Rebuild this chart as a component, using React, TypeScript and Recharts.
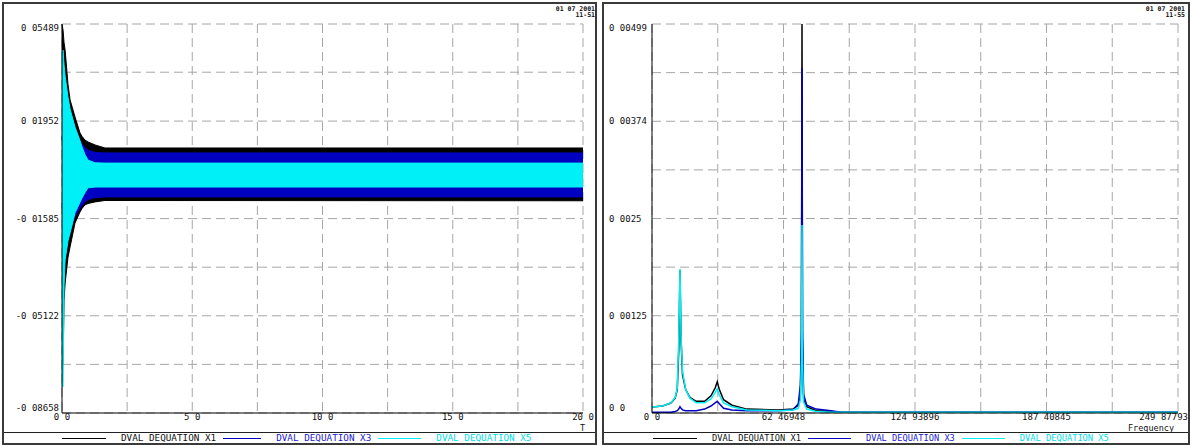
import React from "react";
import { ComposedChart, Area, Line, XAxis, YAxis, CartesianGrid } from "recharts";

// left panel: time response, bands are the oscillation envelopes
const timeT = [0, 0.04, 0.08, 0.12, 0.23, 0.31, 0.5, 0.69, 0.77, 0.88, 1.0, 1.27, 1.65, 20];
const x1Hi = [0.0548, 0.0527, 0.048, 0.0454, 0.033, 0.0273, 0.0211, 0.0153, 0.014, 0.0127, 0.012, 0.0109, 0.0098, 0.0098];
const x1Lo = [-0.0691, -0.0691, -0.0455, -0.0393, -0.03, -0.0262, -0.0175, -0.0135, -0.0122, -0.0109, -0.0104, -0.0098, -0.0093, -0.0094];
const x3Hi = [0.0127, 0.018, 0.022, 0.024, 0.022, 0.02, 0.0155, 0.0125, 0.0112, 0.01, 0.009, 0.0082, 0.008, 0.008];
const x3Lo = [-0.01, -0.016, -0.022, -0.024, -0.022, -0.02, -0.015, -0.012, -0.011, -0.0098, -0.009, -0.0082, -0.008, -0.008];
const x5Hi = [0.04, 0.0454, 0.04, 0.036, 0.0283, 0.024, 0.0174, 0.0125, 0.0102, 0.0075, 0.0054, 0.0044, 0.0043, 0.0043];
const x5Lo = [-0.0771, -0.0771, -0.04, -0.0309, -0.024, -0.0211, -0.0138, -0.01, -0.0084, -0.0065, -0.0047, -0.0044, -0.0044, -0.0044];

const timeTicks = [0, 2.5, 5, 7.5, 10, 12.5, 15, 17.5, 20];
const timeTickLabels = ["0 0", "", "5 0", "", "10 0", "", "15 0", "", "20 0"];
const respTicks = [-0.08658, -0.068896, -0.051223, -0.033549, -0.015875, 0.001809, 0.019583, 0.037356, 0.05489];
const respTickLabels = ["-0 08658", "", "-0 05122", "", "-0 01585", "", "0 01952", "", "0 05489"];

// right panel: spectrum
const freq = [0, 5, 9, 11, 12, 12.7, 13.3, 13.8, 14.5, 16, 18, 21, 25, 28, 30, 31, 32, 34, 38, 45, 60, 67, 69.5, 70.5, 71, 71.26, 71.5, 72, 73.5, 78, 85, 90, 249.88];
const specX1 = [0.000077, 0.00009, 0.000128, 0.00019, 0.0003, 0.0008, 0.00183, 0.00094, 0.00049, 0.0003, 0.0002, 0.00015, 0.00015, 0.00022, 0.00032, 0.0004, 0.0003, 0.00017, 0.0001, 0.00005, 0.00004, 0.00005, 0.0001, 0.00023, 0.00094, 0.00499, 0.00094, 0.00019, 0.00008, 0.00003, 0.00002, 0.00001, 0.00001];
const specX3 = [0.00001, 0.00001, 0.00001, 0.00002, 0.00003, 0.00005, 0.00008, 0.00006, 0.00004, 0.00003, 0.00003, 0.00003, 0.00005, 0.00009, 0.00013, 0.00015, 0.00012, 0.00006, 0.00004, 0.00003, 0.00003, 0.00004, 0.00012, 0.00036, 0.00106, 0.00443, 0.00106, 0.00024, 0.0001, 0.00005, 0.00003, 0.00001, 0.00001];
const specX5 = [0.000077, 0.00009, 0.00013, 0.0002, 0.00032, 0.00094, 0.001847, 0.001, 0.00053, 0.0003, 0.00019, 0.00013, 0.00013, 0.00018, 0.00026, 0.00031, 0.00023, 0.00013, 0.00008, 0.00004, 0.00003, 0.00004, 0.00006, 0.00017, 0.00068, 0.00241, 0.00068, 0.00014, 0.00005, 0.00002, 0.00001, 0.00001, 0.00001];

const freqTicks = [0, 31.23474, 62.46948, 93.70422, 124.93896, 156.1737, 187.40845, 218.64319, 249.87793];
const freqTickLabels = ["0 0", "", "62 46948", "", "124 93896", "", "187 40845", "", "249 87793"];
const ampTicks = [0, 0.00062375, 0.0012475, 0.00187125, 0.002495, 0.00311875, 0.0037425, 0.00436625, 0.00499];
const ampTickLabels = ["0 0", "", "0 00125", "", "0 0025", "", "0 00374", "", "0 00499"];

const seriesNames = ["DVAL DEQUATION X1", "DVAL DEQUATION X3", "DVAL DEQUATION X5"];

const BLACK = "#000000";
const BLUE = "#0000c0";
const CYAN = "#00f0f8";
const GRID = "#a6a6a6";
const FONT = "'DejaVu Sans Mono', monospace";

const timeData = timeT.map((t, i) => ({
  t,
  x1: [x1Lo[i], x1Hi[i]],
  x3: [x3Lo[i], x3Hi[i]],
  x5: [x5Lo[i], x5Hi[i]],
}));

const specData = freq.map((f, i) => ({
  f,
  x1: specX1[i],
  x3: specX3[i],
  x5: specX5[i],
}));

function xTick(labels: string[], pushLast: boolean) {
  return (props: any) => {
    const { x, y, index } = props;
    const label = labels[index];
    if (!label) return <g />;
    const last = pushLast && index === labels.length - 1;
    return (
      <text
        x={last ? x + 10 : x}
        y={y}
        dy="0.71em"
        textAnchor={last ? "end" : "middle"}
        fontFamily={FONT}
        fontSize={9}
        fill="#111"
      >
        {label}
      </text>
    );
  };
}

function yTick(labels: string[], anchor: "start" | "end", fixedX?: number) {
  return (props: any) => {
    const { x, y, index } = props;
    const label = labels[index];
    if (!label) return <g />;
    let shift = 0;
    if (index === 0) shift = -5;
    if (index === labels.length - 1) shift = 4;
    return (
      <text
        x={fixedX ?? x}
        y={y + shift}
        dy="0.35em"
        textAnchor={anchor}
        fontFamily={FONT}
        fontSize={9}
        fill="#111"
      >
        {label}
      </text>
    );
  };
}

interface LegendProps {
  left: number;
  width: number;
  padding: number;
  fontSize: number;
  lineWidths: number[];
}

function Legend({ left, width, padding, fontSize, lineWidths }: LegendProps) {
  const colors = [BLACK, BLUE, CYAN];
  const textColors = ["#111", "#1a1ad8", "#00dcea"];
  return (
    <div
      style={{
        position: "absolute",
        left,
        top: 432,
        width,
        height: 11,
        borderTop: "1px solid #222",
        display: "flex",
        alignItems: "center",
        paddingLeft: padding,
        boxSizing: "border-box",
        fontFamily: FONT,
        fontSize,
        lineHeight: "10px",
      }}
    >
      {seriesNames.map((name, i) => (
        <React.Fragment key={name}>
          <span
            style={{
              display: "inline-block",
              width: lineWidths[i],
              height: 0,
              borderTop: `1px solid ${colors[i]}`,
              marginLeft: i === 0 ? 0 : 7,
              marginRight: 15,
            }}
          />
          <span style={{ color: textColors[i], whiteSpace: "pre" }}>{name}</span>
        </React.Fragment>
      ))}
    </div>
  );
}

function Stamp({ right, time }: { right: number; time: string }) {
  return (
    <div
      style={{
        position: "absolute",
        right,
        top: 6,
        fontFamily: FONT,
        fontSize: 6.5,
        lineHeight: "6px",
        textAlign: "right",
        color: "#111",
        fontWeight: 700,
      }}
    >
      <div>01 07 2001</div>
      <div>{time}</div>
    </div>
  );
}

const axisNote: React.CSSProperties = {
  position: "absolute",
  fontFamily: FONT,
  fontSize: 8.5,
  lineHeight: "8px",
  color: "#111",
};

export default function App() {
  return (
    <div style={{ position: "relative", width: 1190, height: 445, background: "#fff", overflow: "hidden" }}>
      <style>{`body{margin:0}`}</style>

      {/* frames */}
      <div style={{ position: "absolute", left: 2, top: 2, width: 595, height: 443, border: "2px solid #3a3a3a", boxSizing: "border-box" }} />
      <div style={{ position: "absolute", left: 602, top: 2, width: 588, height: 443, border: "2px solid #3a3a3a", boxSizing: "border-box" }} />

      {/* time response */}
      <div style={{ position: "absolute", left: 0, top: 0 }}>
        <ComposedChart width={600} height={440} data={timeData} margin={{ top: 24, right: 17, left: 0, bottom: 0 }}>
          <CartesianGrid stroke={GRID} strokeDasharray="9 5" />
          <XAxis
            dataKey="t"
            type="number"
            domain={[0, 20]}
            ticks={timeTicks}
            interval={0}
            height={27}
            tickSize={0}
            tickMargin={1}
            tickLine={false}
            axisLine={{ stroke: BLACK }}
            tick={xTick(timeTickLabels, false)}
          />
          <YAxis
            type="number"
            domain={[respTicks[0], respTicks[respTicks.length - 1]]}
            ticks={respTicks}
            interval={0}
            width={62}
            tickSize={0}
            tickMargin={3}
            tickLine={false}
            axisLine={{ stroke: BLACK }}
            allowDataOverflow
            tick={yTick(respTickLabels, "end")}
          />
          <Area type="linear" dataKey="x1" stroke={BLACK} strokeWidth={1} fill={BLACK} fillOpacity={1} isAnimationActive={false} />
          <Area type="linear" dataKey="x3" stroke={BLUE} strokeWidth={1} fill={BLUE} fillOpacity={1} isAnimationActive={false} />
          <Area type="linear" dataKey="x5" stroke={CYAN} strokeWidth={1} fill={CYAN} fillOpacity={1} isAnimationActive={false} />
        </ComposedChart>
      </div>
      <div style={{ ...axisNote, left: 580, top: 424 }}>T</div>
      <Stamp right={595} time="11-51" />
      <Legend left={4} width={591} padding={58} fontSize={9.3} lineWidths={[44, 38, 43]} />

      {/* spectrum */}
      <div style={{ position: "absolute", left: 603, top: 0 }}>
        <ComposedChart width={587} height={440} data={specData} margin={{ top: 24, right: 12, left: 0, bottom: 0 }}>
          <CartesianGrid stroke={GRID} strokeDasharray="9 5" />
          <XAxis
            dataKey="f"
            type="number"
            domain={[0, freqTicks[freqTicks.length - 1]]}
            ticks={freqTicks}
            interval={0}
            height={27}
            tickSize={0}
            tickMargin={1}
            tickLine={false}
            axisLine={{ stroke: BLACK }}
            allowDataOverflow
            tick={xTick(freqTickLabels, true)}
          />
          <YAxis
            type="number"
            domain={[0, ampTicks[ampTicks.length - 1]]}
            ticks={ampTicks}
            interval={0}
            width={49}
            tickSize={0}
            tickMargin={3}
            tickLine={false}
            axisLine={{ stroke: BLACK }}
            allowDataOverflow
            tick={yTick(ampTickLabels, "start", 6)}
          />
          <Line type="linear" dataKey="x1" stroke={BLACK} strokeWidth={1.5} dot={false} isAnimationActive={false} />
          <Line type="linear" dataKey="x3" stroke={BLUE} strokeWidth={1.5} dot={false} isAnimationActive={false} />
          <Line type="linear" dataKey="x5" stroke={CYAN} strokeWidth={1.5} dot={false} isAnimationActive={false} />
        </ComposedChart>
      </div>
      <div style={{ ...axisNote, left: 1128, top: 424 }}>Frequency</div>
      <Stamp right={5} time="11-55" />
      <Legend left={604} width={584} padding={49} fontSize={8.7} lineWidths={[44, 43, 43]} />
    </div>
  );
}
